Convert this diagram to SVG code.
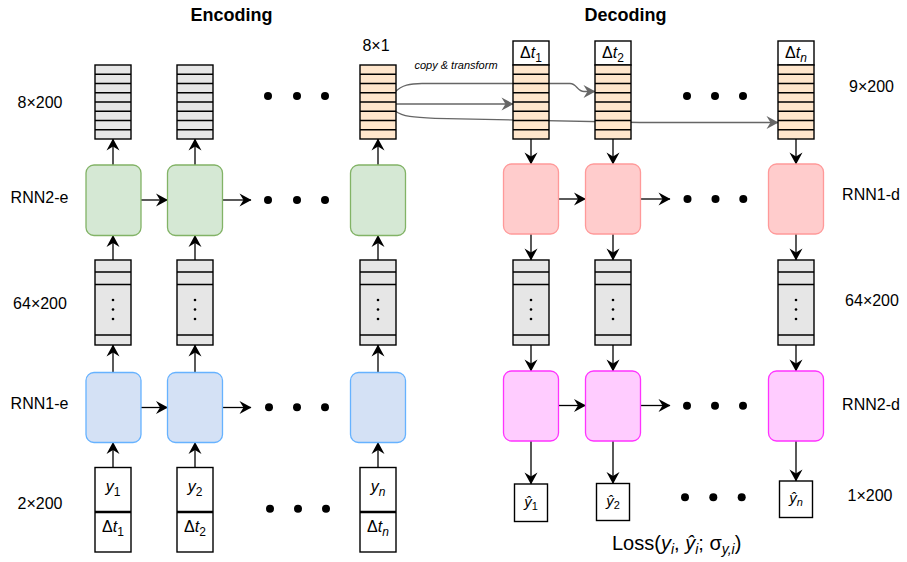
<svg xmlns="http://www.w3.org/2000/svg" width="907" height="562" viewBox="0 0 907 562">
<style>
text{font-family:"Liberation Sans",Arial,Helvetica,sans-serif;fill:#000}
.lbl{font-size:16px;text-anchor:middle}
.ttl{font-size:18px;font-weight:bold;text-anchor:middle}
.it{font-style:italic}
.cell{stroke:#000;stroke-width:1.4}
.gray{fill:#e6e6e6}
.org{fill:#ffe6cc}
.wht{fill:#fff;stroke:#000;stroke-width:1.4}
.g{fill:#d5e8d4;stroke:#82b366;stroke-width:1.3}
.b{fill:#d4e1f5;stroke:#66b2ff;stroke-width:1.3}
.p{fill:#ffcccc;stroke:#ff9999;stroke-width:1.3}
.m{fill:#ffccff;stroke:#ff33ff;stroke-width:1.3}
.ln{fill:none;stroke:#000;stroke-width:1.4}
.ar{fill:none;stroke:#000;stroke-width:1.3;marker-end:url(#ah)}
.ag{fill:none;stroke:#666;stroke-width:1.3;marker-end:url(#ahg)}
.dot{fill:#000}
</style>
<defs>
<marker id="ah" markerWidth="14" markerHeight="14" refX="12" refY="7" orient="auto" markerUnits="userSpaceOnUse"><path d="M12.5,7 L0.5,0.5 L4.5,7 L0.5,13.5 Z" fill="#000"/></marker>
<marker id="ahg" markerWidth="14" markerHeight="14" refX="12" refY="7" orient="auto" markerUnits="userSpaceOnUse"><path d="M12.5,7 L0.5,0.5 L4.5,7 L0.5,13.5 Z" fill="#666"/></marker>
<g id="stack8">
<rect x="0" y="0" width="36" height="74" class="cell"/>
<path class="ln" d="M0,9.25H36M0,18.5H36M0,27.75H36M0,37H36M0,46.25H36M0,55.5H36M0,64.75H36"/>
</g>
<g id="stack64">
<rect x="0" y="0" width="36" height="85" class="cell gray"/>
<path class="ln" d="M0,12H36M0,24.5H36M0,75H36"/>
<circle cx="18" cy="40" r="1.3" class="dot"/>
<circle cx="18" cy="49.5" r="1.3" class="dot"/>
<circle cx="18" cy="59" r="1.3" class="dot"/>
</g>
</defs>

<text class="ttl" x="231.5" y="21">Encoding</text>
<text class="ttl" x="625.5" y="21">Decoding</text>

<g id="labels">
<text class="lbl" x="40" y="108">8×200</text>
<text class="lbl" x="39.5" y="202.5">RNN2-e</text>
<text class="lbl" x="40" y="308.5">64×200</text>
<text class="lbl" x="39.5" y="408.5">RNN1-e</text>
<text class="lbl" x="40" y="508.5">2×200</text>
<text class="lbl" x="871.5" y="91.7">9×200</text>
<text class="lbl" x="871" y="200">RNN1-d</text>
<text class="lbl" x="872" y="305.7">64×200</text>
<text class="lbl" x="871" y="410">RNN2-d</text>
<text class="lbl" x="870" y="500.7">1×200</text>
<text class="lbl" x="376" y="51">8×1</text>
<text x="456" y="68.5" style="font-size:11px;font-style:italic;text-anchor:middle">copy &amp; transform</text>
<text x="612" y="550" style="font-size:20px">Loss(<tspan class="it">y</tspan><tspan class="it" dy="4" style="font-size:14px">i</tspan><tspan dy="-4">, </tspan><tspan class="it">ŷ</tspan><tspan class="it" dy="4" style="font-size:14px">i</tspan><tspan dy="-4">; σ</tspan><tspan class="it" dy="4" style="font-size:14px">y,i</tspan><tspan dy="-4">)</tspan></text>
</g>

<g id="connectors">
<path class="ag" d="M395,92 C402,85 410,83.5 422,83.5 L570,83.5 C577,83.5 577,91.5 584,91.5 L595,91.5"/>
<path class="ag" d="M395,104 L513,104"/>
<path class="ag" d="M395,111 C403,116.5 413,117.6 435,118.3 Q600,121.6 640,122.5 L778,122.5"/>
<path class="ar" d="M113,467.5V442.5"/><path class="ar" d="M195,467.5V442.5"/><path class="ar" d="M378,467.5V442.5"/>
<path class="ar" d="M113,372.5V345"/><path class="ar" d="M195,372.5V345"/><path class="ar" d="M378,372.5V345"/>
<path class="ar" d="M113,260V235.5"/><path class="ar" d="M195,260V235.5"/><path class="ar" d="M378,260V235.5"/>
<path class="ar" d="M113,165V139"/><path class="ar" d="M195,165V139"/><path class="ar" d="M378,165V139"/>
<path class="ar" d="M141,200H167.5"/><path class="ar" d="M222.5,200H251"/>
<path class="ar" d="M141,407.5H167.5"/><path class="ar" d="M222.5,407.5H251"/>
<path class="ar" d="M531,139V164"/><path class="ar" d="M613,139V164"/><path class="ar" d="M796,139V164"/>
<path class="ar" d="M531,234V260"/><path class="ar" d="M613,234V260"/><path class="ar" d="M796,234V260"/>
<path class="ar" d="M531,345V371"/><path class="ar" d="M613,345V371"/><path class="ar" d="M796,345V371"/>
<path class="ar" d="M531,441V484"/><path class="ar" d="M613,441V483.5"/><path class="ar" d="M796,441V481"/>
<path class="ar" d="M559,199H585.5"/><path class="ar" d="M640.5,199H670"/>
<path class="ar" d="M559,405.5H585.5"/><path class="ar" d="M640.5,405.5H670"/>
</g>

<g id="dots">
<circle cx="268" cy="96" r="4" class="dot"/><circle cx="297" cy="96" r="4" class="dot"/><circle cx="325" cy="96" r="4" class="dot"/>
<circle cx="268" cy="200" r="4" class="dot"/><circle cx="297" cy="200" r="4" class="dot"/><circle cx="325" cy="200" r="4" class="dot"/>
<circle cx="269" cy="407.3" r="4" class="dot"/><circle cx="297" cy="407.3" r="4" class="dot"/><circle cx="325" cy="407.3" r="4" class="dot"/>
<circle cx="270" cy="508.7" r="4" class="dot"/><circle cx="298" cy="508.7" r="4" class="dot"/><circle cx="326" cy="508.7" r="4" class="dot"/>
<circle cx="687" cy="96" r="4" class="dot"/><circle cx="715" cy="96" r="4" class="dot"/><circle cx="743" cy="96" r="4" class="dot"/>
<circle cx="687.5" cy="199" r="4" class="dot"/><circle cx="715.5" cy="199" r="4" class="dot"/><circle cx="743.3" cy="199" r="4" class="dot"/>
<circle cx="687" cy="405.7" r="4" class="dot"/><circle cx="715" cy="405.7" r="4" class="dot"/><circle cx="743" cy="405.7" r="4" class="dot"/>
<circle cx="685" cy="497.3" r="4" class="dot"/><circle cx="713.3" cy="497.3" r="4" class="dot"/><circle cx="741.7" cy="497.3" r="4" class="dot"/>
</g>

<g id="enc1">
<use href="#stack8" x="95" y="65" class="gray"/>
<rect x="86" y="165" width="55" height="70.5" rx="8" class="g"/>
<use href="#stack64" x="95" y="260"/>
<rect x="86" y="372.5" width="55" height="70" rx="8" class="b"/>
<rect x="95" y="467.5" width="36" height="84.5" class="wht"/>
<path d="M95,512H131" stroke="#000" stroke-width="2.6"/>
<text class="lbl it" x="113" y="492">y<tspan dy="3.5" style="font-size:12px;font-style:normal">1</tspan></text>
<text class="lbl" x="113" y="532">Δ<tspan class="it">t</tspan><tspan dy="3.5" style="font-size:12px">1</tspan></text>
</g>
<g id="enc2">
<use href="#stack8" x="177" y="65" class="gray"/>
<rect x="167.5" y="165" width="55" height="70.5" rx="8" class="g"/>
<use href="#stack64" x="177" y="260"/>
<rect x="167.5" y="372.5" width="55" height="70" rx="8" class="b"/>
<rect x="177" y="467.5" width="36" height="84.5" class="wht"/>
<path d="M177,512H213" stroke="#000" stroke-width="2.6"/>
<text class="lbl it" x="195" y="492">y<tspan dy="3.5" style="font-size:12px;font-style:normal">2</tspan></text>
<text class="lbl" x="195" y="532">Δ<tspan class="it">t</tspan><tspan dy="3.5" style="font-size:12px">2</tspan></text>
</g>
<g id="encn">
<use href="#stack8" x="360" y="65" class="org"/>
<rect x="350.5" y="165" width="55" height="70.5" rx="8" class="g"/>
<use href="#stack64" x="360" y="260"/>
<rect x="350.5" y="372.5" width="55" height="70" rx="8" class="b"/>
<rect x="360" y="467.5" width="36" height="84.5" class="wht"/>
<path d="M360,512H396" stroke="#000" stroke-width="2.6"/>
<text class="lbl it" x="378" y="492">y<tspan dy="3.5" style="font-size:12px">n</tspan></text>
<text class="lbl" x="378" y="532">Δ<tspan class="it">t</tspan><tspan class="it" dy="3.5" style="font-size:12px">n</tspan></text>
</g>

<g id="dec1">
<rect x="513" y="41" width="36" height="24" class="wht"/>
<text class="lbl" x="531" y="58">Δ<tspan class="it">t</tspan><tspan dy="3.5" style="font-size:12px">1</tspan></text>
<use href="#stack8" x="513" y="65" class="org"/>
<rect x="503.5" y="164" width="55" height="70" rx="8" class="p"/>
<use href="#stack64" x="513" y="260"/>
<rect x="503.5" y="371" width="55" height="70" rx="8" class="m"/>
<rect x="514.5" y="484" width="33" height="37.5" class="wht"/>
<text x="531" y="507" style="font-size:15px;text-anchor:middle"><tspan class="it">ŷ</tspan><tspan dy="3" style="font-size:11px">1</tspan></text>
</g>
<g id="dec2">
<rect x="595" y="41" width="36" height="24" class="wht"/>
<text class="lbl" x="613" y="58">Δ<tspan class="it">t</tspan><tspan dy="3.5" style="font-size:12px">2</tspan></text>
<use href="#stack8" x="595" y="65" class="org"/>
<rect x="585.5" y="164" width="55" height="70" rx="8" class="p"/>
<use href="#stack64" x="595" y="260"/>
<rect x="585.5" y="371" width="55" height="70" rx="8" class="m"/>
<rect x="596.5" y="483.5" width="33" height="37" class="wht"/>
<text x="613" y="505.5" style="font-size:15px;text-anchor:middle"><tspan class="it">ŷ</tspan><tspan dy="3" style="font-size:11px">2</tspan></text>
</g>
<g id="decn">
<rect x="778" y="41" width="36" height="24" class="wht"/>
<text class="lbl" x="796" y="58">Δ<tspan class="it">t</tspan><tspan class="it" dy="3.5" style="font-size:12px">n</tspan></text>
<use href="#stack8" x="778" y="65" class="org"/>
<rect x="768.5" y="164" width="55" height="70" rx="8" class="p"/>
<use href="#stack64" x="778" y="260"/>
<rect x="768.5" y="371" width="55" height="70" rx="8" class="m"/>
<rect x="779.5" y="481" width="33" height="36.5" class="wht"/>
<text x="796" y="502.5" style="font-size:15px;text-anchor:middle"><tspan class="it">ŷ</tspan><tspan class="it" dy="3" style="font-size:11px">n</tspan></text>
</g>
</svg>
